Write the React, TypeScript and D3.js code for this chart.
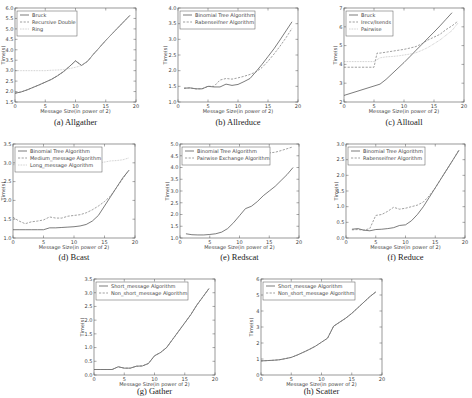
import React from "react";
import * as d3 from "d3";

// Message sizes (power of 2)
const X0 = d3.range(0, 20);
const X1 = d3.range(1, 20);

// (a) Allgather
const allgatherBruck = [1.92, 1.98, 2.08, 2.2, 2.32, 2.45, 2.58, 2.75, 2.95, 3.2, 3.47, 3.25, 3.45, 3.8, 4.12, 4.45, 4.75, 5.05, 5.35, 5.65];
const allgatherRecDouble = [1.92, 1.98, 2.08, 2.2, 2.32, 2.45, 2.58, 2.75, 2.95, 3.2, 3.47, 3.25, 3.45, 3.8, 4.12, 4.45, 4.75, 5.05, 5.35, 5.65];
const allgatherRing = [3.0, 3.0, 3.0, 3.0, 3.0, 3.0, 3.02, 3.03, 3.05, 3.1, 3.16, 3.25, 3.45, 3.8, 4.12, 4.45, 4.75, 5.05, 5.35, 5.65];

// (b) Allreduce
const allreduceBinomial = [1.44, 1.45, 1.42, 1.42, 1.5, 1.48, 1.48, 1.57, 1.53, 1.56, 1.65, 1.75, 1.97, 2.2, 2.45, 2.7, 2.98, 3.27, 3.56];
const allreduceRaben = [1.44, 1.45, 1.42, 1.42, 1.5, 1.5, 1.7, 1.75, 1.73, 1.77, 1.82, 1.88, 1.96, 2.1, 2.3, 2.53, 2.78, 3.05, 3.35];

// (c) Alltoall
const alltoallX = [0, 1, 2, 3, 4, 5, 5.5, 6, 7, 8, 9, 10, 11, 12, 13, 14, 15, 16, 17, 18, 19];
const alltoallBruck = [2.35, 2.45, 2.55, 2.65, 2.75, 2.85, 2.9, 2.95, 3.2, 3.5, 3.8, 4.1, 4.42, 4.75, 5.07, 5.4, 5.72, 6.05, 6.4, 6.75, null];
const alltoallIrecv = [3.85, 3.85, 3.85, 3.85, 3.85, 3.85, 4.6, 4.6, 4.65, 4.7, 4.75, 4.8, 4.87, 4.95, 5.1, 5.3, 5.45, 5.6, 5.85, 6.05, 6.3];
const alltoallPairwise = [4.15, 4.15, 4.15, 4.15, 4.15, 4.15, 4.25, 4.35, 4.4, 4.42, 4.45, 4.5, 4.55, 4.62, 4.75, 4.9, 5.1, 5.3, 5.55, 5.8, 6.2];

// (d) Bcast
const bcastBinomial = [1.22, 1.22, 1.22, 1.22, 1.22, 1.22, 1.27, 1.27, 1.28, 1.29, 1.3, 1.32, 1.36, 1.45, 1.6, 1.85, 2.1, 2.35, 2.6, 2.8];
const bcastMedium = [1.55, 1.45, 1.38, 1.43, 1.45, 1.48, 1.56, 1.53, 1.53, 1.58, 1.6, 1.62, 1.67, 1.75, 1.85, 1.97, 2.12, 2.35, 2.58, 2.8];
const bcastLong = [2.95, 2.95, 2.96, 2.96, 2.97, 2.97, 2.98, 2.98, 2.99, 2.99, 3.0, 3.0, 3.0, 2.98, 3.0, 3.02, 3.05, 3.06, 3.08, 3.13];

// (e) Redscat
const redscatBinomial = [1.18, 1.14, 1.13, 1.13, 1.15, 1.18, 1.25, 1.4, 1.65, 1.95, 2.25, 2.35, 2.55, 2.8, 3.0, 3.2, 3.45, 3.7, 4.0];
const redscatPairwise = [4.5, 4.5, 4.5, 4.5, 4.5, 4.52, 4.52, 4.53, 4.54, 4.55, 4.56, 4.57, 4.58, 4.6, 4.62, 4.65, 4.72, 4.8, 4.88];

// (f) Reduce
const reduceBinomial = [0.28, 0.3, 0.25, 0.23, 0.27, 0.28, 0.3, 0.33, 0.4, 0.42, 0.55, 0.75, 1.0, 1.3, 1.6, 1.9, 2.2, 2.5, 2.8];
const reduceRaben = [0.26, 0.27, 0.25, 0.3, 0.72, 0.75, 0.85, 0.98, 0.92, 0.95, 1.0, 1.05, 1.15, 1.35, 1.6, 1.9, 2.2, 2.5, 2.82];

// (g) Gather
const gatherShort = [0.2, 0.2, 0.2, 0.2, 0.3, 0.25, 0.25, 0.32, 0.33, 0.42, 0.7, 0.82, 1.0, 1.3, 1.6, 1.9, 2.2, 2.55, 2.85, 3.15];
const gatherNonShort = [0.2, 0.2, 0.2, 0.2, 0.3, 0.25, 0.25, 0.32, 0.33, 0.42, 0.7, 0.82, 1.0, 1.3, 1.6, 1.9, 2.2, 2.55, 2.85, 3.15];

// (h) Scatter
const scatterShort = [0.88, 0.9, 0.92, 0.95, 1.02, 1.1, 1.25, 1.42, 1.6, 1.8, 2.05, 2.3, 3.05, 3.3, 3.55, 3.85, 4.2, 4.55, 4.9, 5.2];
const scatterNonShort = [0.88, 0.9, 0.92, 0.95, 1.02, 1.1, 1.25, 1.42, 1.6, 1.8, 2.05, 2.3, 3.05, 3.3, 3.55, 3.85, 4.2, 4.55, 4.9, 5.2];

const xTicks = [0, 5, 10, 15, 20];

type Style = "solid" | "dashed" | "dotted";
interface Series { name: string; x: number[]; y: (number | null)[]; style: Style; }
interface PanelProps {
  box: [number, number, number, number];
  yDomain: [number, number];
  yTicks: number[];
  yFmt: string;
  series: Series[];
  legendW: number;
  caption: string;
  captionY: number;
  ylabelX: number;
}

const STYLES: Record<Style, { stroke: string; dash?: string; w: number }> = {
  solid: { stroke: "#444", w: 0.7 },
  dashed: { stroke: "#777", dash: "2.2,1.4", w: 0.7 },
  dotted: { stroke: "#bbb", dash: "0.8,0.8", w: 0.8 },
};

const FONT = "DejaVu Sans, sans-serif";

function Panel({ box, yDomain, yTicks, yFmt, series, legendW, caption, captionY, ylabelX }: PanelProps) {
  const [x0, y0, x1, y1] = box;
  const xs = d3.scaleLinear().domain([0, 20]).range([x0, x1]);
  const ys = d3.scaleLinear().domain(yDomain).range([y1, y0]);
  const fmt = d3.format(yFmt);
  const legendH = 4 + series.length * 7;
  const midX = (x0 + x1) / 2;
  const midY = (y0 + y1) / 2;
  return (
    <g>
      <rect x={x0} y={y0} width={x1 - x0} height={y1 - y0} fill="#fff" />
      {series.map((s) => {
        const st = STYLES[s.style];
        const pts = s.x.map((xv, i) => [xv, s.y[i]] as [number, number | null]);
        const line = d3
          .line<[number, number | null]>()
          .defined((d) => d[1] != null)
          .x((d) => xs(d[0]))
          .y((d) => ys(d[1] as number));
        return (
          <path key={s.name} d={line(pts) || ""} fill="none" stroke={st.stroke} strokeWidth={st.w} strokeDasharray={st.dash} />
        );
      })}
      <rect x={x0} y={y0} width={x1 - x0} height={y1 - y0} fill="none" stroke="#555" strokeWidth={0.6} />
      {xTicks.map((t) => (
        <g key={"x" + t}>
          <line x1={xs(t)} x2={xs(t)} y1={y1} y2={y1 - 2.5} stroke="#555" strokeWidth={0.5} />
          <line x1={xs(t)} x2={xs(t)} y1={y0} y2={y0 + 2.5} stroke="#555" strokeWidth={0.5} />
          <text x={xs(t)} y={y1 + 5.5} fontSize={5} fontFamily={FONT} textAnchor="middle" fill="#444">{t}</text>
        </g>
      ))}
      {yTicks.map((t) => (
        <g key={"y" + t}>
          <line x1={x0} x2={x0 + 2.5} y1={ys(t)} y2={ys(t)} stroke="#555" strokeWidth={0.5} />
          <line x1={x1} x2={x1 - 2.5} y1={ys(t)} y2={ys(t)} stroke="#555" strokeWidth={0.5} />
          <text x={x0 - 1.5} y={ys(t) + 1.8} fontSize={5} fontFamily={FONT} textAnchor="end" fill="#444">{fmt(t)}</text>
        </g>
      ))}
      <text x={midX} y={y1 + 11} fontSize={5} fontFamily={FONT} textAnchor="middle" fill="#444">Message Size(in power of 2)</text>
      <text transform={`translate(${ylabelX},${midY}) rotate(-90)`} fontSize={5} fontFamily={FONT} textAnchor="middle" fill="#444">Time(s)</text>
      <g>
        <rect x={x0 + 2} y={y0 + 3} width={legendW} height={legendH} fill="#fff" stroke="#555" strokeWidth={0.5} />
        {series.map((s, i) => {
          const st = STYLES[s.style];
          const ly = y0 + 7 + i * 7;
          return (
            <g key={"l" + s.name}>
              <line x1={x0 + 5} x2={x0 + 14} y1={ly} y2={ly} stroke={st.stroke} strokeWidth={st.w} strokeDasharray={st.dash} />
              <text x={x0 + 17} y={ly + 1.8} fontSize={5} fontFamily={FONT} fill="#444">{s.name}</text>
            </g>
          );
        })}
      </g>
      <text x={midX} y={captionY} fontSize={8.5} fontFamily="Liberation Serif, serif" textAnchor="middle" fill="#222">{caption}</text>
    </g>
  );
}

const step = (a: number, b: number, s: number) => d3.range(a, b + s / 2, s);

export default function App() {
  return (
    <svg width={472} height={398} style={{ position: "absolute", left: 0, top: 0, background: "#fff" }}>
      <Panel
        box={[15, 8, 136, 102]} yDomain={[1.5, 6]} yTicks={step(1.5, 6, 0.5)} yFmt=".1f" legendW={60} ylabelX={5}
        caption="(a)  Allgather" captionY={125}
        series={[
          { name: "Bruck", x: X0, y: allgatherBruck, style: "solid" },
          { name: "Recursive Double", x: X0, y: allgatherRecDouble, style: "dashed" },
          { name: "Ring", x: X0, y: allgatherRing, style: "dotted" },
        ]}
      />
      <Panel
        box={[178, 8, 298, 102]} yDomain={[1, 4]} yTicks={step(1, 4, 0.5)} yFmt=".1f" legendW={75} ylabelX={167}
        caption="(b)  Allreduce" captionY={125}
        series={[
          { name: "Binomial Tree Algorithm", x: X1, y: allreduceBinomial, style: "solid" },
          { name: "Rabenseifner Algorithm", x: X1, y: allreduceRaben, style: "dashed" },
        ]}
      />
      <Panel
        box={[344, 8, 464, 102]} yDomain={[2, 7]} yTicks={step(2, 7, 1)} yFmt="d" legendW={47} ylabelX={337}
        caption="(c)  Alltoall" captionY={125}
        series={[
          { name: "Bruck", x: alltoallX, y: alltoallBruck, style: "solid" },
          { name: "Irecv/Isends", x: alltoallX, y: alltoallIrecv, style: "dashed" },
          { name: "Pairwise", x: alltoallX, y: alltoallPairwise, style: "dotted" },
        ]}
      />
      <Panel
        box={[13, 144, 135, 238]} yDomain={[1, 3.5]} yTicks={step(1, 3.5, 0.5)} yFmt=".1f" legendW={87} ylabelX={4.5}
        caption="(d)  Bcast" captionY={260}
        series={[
          { name: "Binomial Tree Algorithm", x: X0, y: bcastBinomial, style: "solid" },
          { name: "Medium_message Algorithm", x: X0, y: bcastMedium, style: "dashed" },
          { name: "Long_message Algorithm", x: X0, y: bcastLong, style: "dotted" },
        ]}
      />
      <Panel
        box={[180, 144, 299, 238]} yDomain={[1, 5]} yTicks={step(1, 5, 0.5)} yFmt=".1f" legendW={88} ylabelX={169}
        caption="(e)  Redscat" captionY={260}
        series={[
          { name: "Binomial Tree Algorithm", x: X1, y: redscatBinomial, style: "solid" },
          { name: "Pairwise Exchange Algorithm", x: X1, y: redscatPairwise, style: "dashed" },
        ]}
      />
      <Panel
        box={[346, 144, 465, 238]} yDomain={[0, 3]} yTicks={step(0, 3, 0.5)} yFmt=".1f" legendW={77} ylabelX={338}
        caption="(f)  Reduce" captionY={260}
        series={[
          { name: "Binomial Tree Algorithm", x: X1, y: reduceBinomial, style: "solid" },
          { name: "Rabenseifner Algorithm", x: X1, y: reduceRaben, style: "dashed" },
        ]}
      />
      <Panel
        box={[94, 279, 215, 375]} yDomain={[0, 3.5]} yTicks={step(0, 3.5, 0.5)} yFmt=".1f" legendW={92} ylabelX={84}
        caption="(g)  Gather" captionY={394}
        series={[
          { name: "Short_message Algorithm", x: X0, y: gatherShort, style: "solid" },
          { name: "Non_short_message Algorithm", x: X0, y: gatherNonShort, style: "dashed" },
        ]}
      />
      <Panel
        box={[261, 279, 382, 375]} yDomain={[0, 6]} yTicks={step(0, 6, 1)} yFmt="d" legendW={92} ylabelX={253}
        caption="(h)  Scatter" captionY={394}
        series={[
          { name: "Short_message Algorithm", x: X0, y: scatterShort, style: "solid" },
          { name: "Non_short_message Algorithm", x: X0, y: scatterNonShort, style: "dashed" },
        ]}
      />
    </svg>
  );
}
